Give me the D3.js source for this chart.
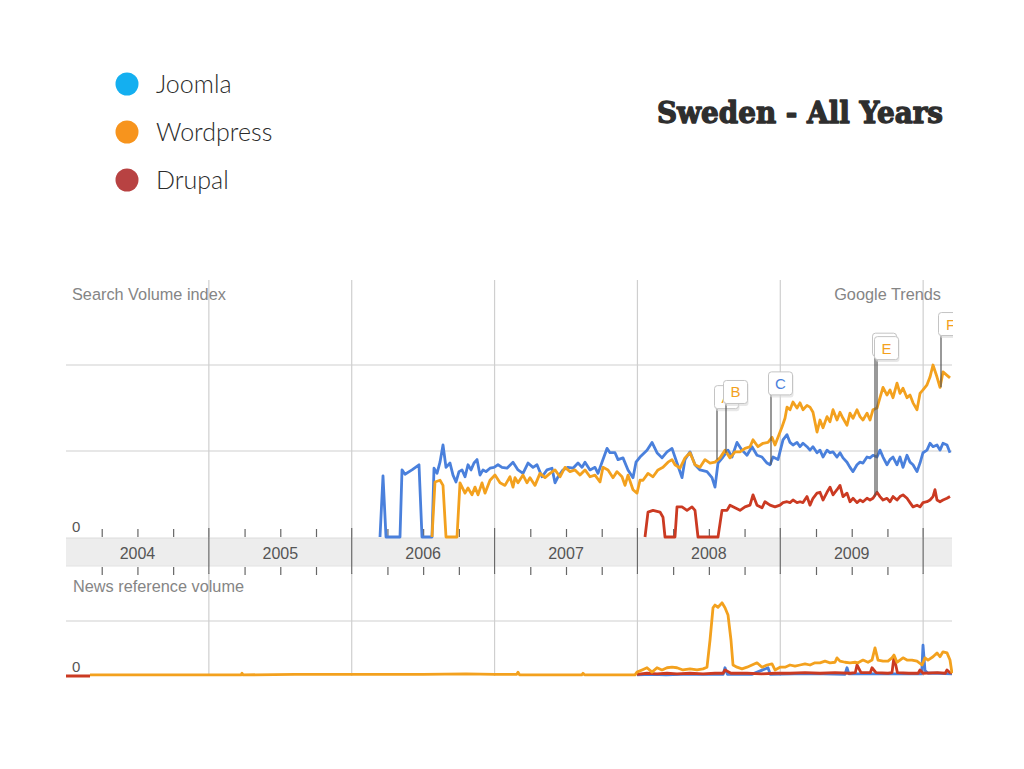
<!DOCTYPE html>
<html><head><meta charset="utf-8">
<script src="https://cdn.jsdelivr.net/npm/d3@7/dist/d3.min.js"></script>
<style>
html,body{margin:0;padding:0;background:#fff;}
svg{display:block;}
</style></head>
<body>
<svg id="c" width="1024" height="769"></svg>
<script>
// ---------- DATA ----------
const legendNames = ["Joomla", "Wordpress", "Drupal"];
const legendColors = ["#14aff0", "#f7941d", "#b84242"];
const titleText = "Sweden - All Years";
const yearLabels = ["2004", "2005", "2006", "2007", "2008", "2009"];
const yearStarts = [2004, 2005, 2006, 2007, 2008, 2009, 2010];
const quarterOffsets = [0.25, 0.5, 0.75];
const xDomain = [2004, 2010.202];
const searchDomain = [0, 3];
const searchGrid = [1, 2];
const newsDomain = [0, 2];
const newsGrid = [1];

// Search volume index, [decimal year, index]
const joomlaSearch = [[2006.198,0],[2006.219,0.71],[2006.240,0],[2006.338,0],[2006.352,0.78],[2006.373,0.73],[2006.422,0.78],[2006.471,0.84],[2006.492,0],[2006.562,0],[2006.576,0.80],[2006.597,0.74],[2006.618,0.87],[2006.639,1.07],[2006.660,0.81],[2006.688,0.86],[2006.709,0.72],[2006.730,0.64],[2006.751,0.76],[2006.772,0.78],[2006.793,0.70],[2006.814,0.84],[2006.835,0.78],[2006.856,0.86],[2006.877,0.90],[2006.898,0.72],[2006.919,0.78],[2006.940,0.76],[2006.968,0.80],[2006.996,0.81],[2007.024,0.84],[2007.052,0.81],[2007.087,0.80],[2007.129,0.87],[2007.164,0.78],[2007.199,0.74],[2007.234,0.86],[2007.269,0.81],[2007.297,0.84],[2007.332,0.70],[2007.367,0.78],[2007.402,0.80],[2007.423,0.63],[2007.444,0.70],[2007.479,0.78],[2007.514,0.81],[2007.549,0.80],[2007.584,0.86],[2007.612,0.81],[2007.633,0.87],[2007.668,0.78],[2007.703,0.81],[2007.724,0.74],[2007.752,0.87],[2007.787,1.03],[2007.808,0.98],[2007.843,0.98],[2007.864,0.90],[2007.899,0.92],[2007.934,0.78],[2007.969,0.69],[2007.990,0.87],[2008.018,0.93],[2008.067,1.01],[2008.102,1.10],[2008.137,0.98],[2008.172,0.92],[2008.207,0.99],[2008.242,1.03],[2008.277,0.86],[2008.312,0.69],[2008.333,0.90],[2008.368,0.99],[2008.403,0.84],[2008.438,0.78],[2008.487,0.76],[2008.522,0.69],[2008.543,0.58],[2008.564,0.86],[2008.599,0.93],[2008.634,1.01],[2008.662,0.93],[2008.697,1.10],[2008.732,1.01],[2008.767,0.95],[2008.802,1.05],[2008.837,0.95],[2008.872,0.93],[2008.907,0.86],[2008.928,0.84],[2008.949,0.93],[2008.984,0.90],[2009.019,1.13],[2009.047,1.19],[2009.068,1.10],[2009.089,1.07],[2009.117,1.10],[2009.138,1.05],[2009.159,1.09],[2009.187,1.05],[2009.208,1.01],[2009.229,1.05],[2009.257,0.98],[2009.278,1.01],[2009.299,0.93],[2009.327,1.01],[2009.348,0.98],[2009.369,0.99],[2009.397,0.93],[2009.418,0.98],[2009.439,0.92],[2009.467,0.87],[2009.488,0.81],[2009.509,0.76],[2009.537,0.84],[2009.558,0.87],[2009.579,0.86],[2009.607,0.93],[2009.628,0.92],[2009.649,0.95],[2009.677,0.93],[2009.698,1.01],[2009.719,0.93],[2009.747,0.84],[2009.768,0.90],[2009.789,0.93],[2009.817,0.84],[2009.838,0.93],[2009.859,0.81],[2009.887,0.95],[2009.908,0.87],[2009.929,0.84],[2009.957,0.76],[2009.978,0.86],[2009.999,0.98],[2010.027,1.01],[2010.048,1.09],[2010.069,1.05],[2010.097,1.07],[2010.118,1.01],[2010.139,1.09],[2010.167,1.07],[2010.188,0.98]];

const wordpressSearch = [[2006.562,0],[2006.583,0.64],[2006.618,0.66],[2006.639,0.60],[2006.660,0],[2006.737,0],[2006.758,0.63],[2006.793,0.51],[2006.814,0.57],[2006.842,0.49],[2006.863,0.58],[2006.884,0.49],[2006.912,0.63],[2006.933,0.51],[2006.968,0.66],[2007.003,0.72],[2007.038,0.63],[2007.073,0.60],[2007.108,0.70],[2007.129,0.58],[2007.143,0.69],[2007.164,0.63],[2007.199,0.72],[2007.227,0.63],[2007.248,0.69],[2007.283,0.60],[2007.318,0.74],[2007.353,0.69],[2007.388,0.74],[2007.423,0.78],[2007.458,0.70],[2007.493,0.81],[2007.528,0.76],[2007.563,0.78],[2007.598,0.72],[2007.633,0.78],[2007.668,0.70],[2007.703,0.72],[2007.738,0.64],[2007.759,0.81],[2007.794,0.78],[2007.829,0.69],[2007.857,0.76],[2007.892,0.70],[2007.913,0.60],[2007.934,0.72],[2007.969,0.55],[2007.997,0.51],[2008.018,0.66],[2008.039,0.66],[2008.074,0.74],[2008.109,0.70],[2008.144,0.78],[2008.179,0.81],[2008.214,0.87],[2008.242,0.90],[2008.263,0.84],[2008.298,0.80],[2008.333,0.92],[2008.368,0.98],[2008.403,0.84],[2008.438,0.81],[2008.473,0.90],[2008.508,0.86],[2008.543,0.87],[2008.578,0.92],[2008.613,1.01],[2008.648,0.92],[2008.683,0.99],[2008.718,0.99],[2008.753,1.03],[2008.788,1.05],[2008.809,1.13],[2008.844,1.05],[2008.879,1.09],[2008.914,1.10],[2008.942,1.16],[2008.963,1.07],[2008.984,1.16],[2009.012,1.28],[2009.033,1.38],[2009.047,1.51],[2009.068,1.48],[2009.089,1.57],[2009.117,1.50],[2009.138,1.56],[2009.159,1.48],[2009.187,1.53],[2009.208,1.51],[2009.229,1.45],[2009.257,1.22],[2009.278,1.36],[2009.299,1.27],[2009.327,1.40],[2009.348,1.34],[2009.369,1.48],[2009.397,1.36],[2009.418,1.45],[2009.439,1.38],[2009.467,1.30],[2009.488,1.44],[2009.509,1.38],[2009.537,1.48],[2009.558,1.40],[2009.579,1.36],[2009.607,1.44],[2009.628,1.36],[2009.649,1.48],[2009.677,1.50],[2009.698,1.62],[2009.719,1.74],[2009.747,1.65],[2009.768,1.71],[2009.789,1.62],[2009.817,1.79],[2009.838,1.67],[2009.859,1.73],[2009.887,1.62],[2009.908,1.65],[2009.929,1.56],[2009.957,1.48],[2009.978,1.67],[2009.999,1.71],[2010.027,1.77],[2010.048,1.86],[2010.069,2.00],[2010.097,1.86],[2010.118,1.74],[2010.139,1.92],[2010.167,1.88],[2010.188,1.85]];

const drupalSearch = [[2008.053,0],[2008.074,0.29],[2008.109,0.31],[2008.158,0.29],[2008.179,0.23],[2008.193,0],[2008.263,0],[2008.277,0.35],[2008.312,0.35],[2008.347,0.31],[2008.382,0.35],[2008.403,0.31],[2008.424,0],[2008.564,0],[2008.592,0.31],[2008.627,0.31],[2008.648,0.37],[2008.683,0.34],[2008.718,0.31],[2008.753,0.35],[2008.788,0.37],[2008.809,0.49],[2008.837,0.37],[2008.872,0.34],[2008.893,0.41],[2008.928,0.37],[2008.963,0.35],[2008.998,0.37],[2009.019,0.40],[2009.047,0.41],[2009.068,0.40],[2009.089,0.43],[2009.117,0.40],[2009.138,0.41],[2009.159,0.40],[2009.187,0.47],[2009.208,0.37],[2009.229,0.45],[2009.257,0.51],[2009.278,0.52],[2009.299,0.43],[2009.327,0.52],[2009.348,0.58],[2009.369,0.49],[2009.397,0.55],[2009.418,0.60],[2009.439,0.47],[2009.467,0.51],[2009.488,0.41],[2009.509,0.45],[2009.537,0.40],[2009.558,0.43],[2009.579,0.41],[2009.607,0.45],[2009.628,0.43],[2009.649,0.45],[2009.677,0.52],[2009.698,0.47],[2009.719,0.43],[2009.747,0.45],[2009.768,0.41],[2009.789,0.47],[2009.817,0.43],[2009.838,0.47],[2009.859,0.49],[2009.887,0.45],[2009.908,0.40],[2009.929,0.35],[2009.957,0.37],[2009.978,0.35],[2009.999,0.40],[2010.027,0.41],[2010.048,0.43],[2010.069,0.47],[2010.083,0.55],[2010.097,0.43],[2010.118,0.41],[2010.139,0.43],[2010.167,0.45],[2010.188,0.47]];

// News reference volume, [decimal year, volume]
const joomlaNews = [[2007.997,0.02],[2008.100,0.03],[2008.200,0.02],[2008.300,0.03],[2008.400,0.03],[2008.600,0.03],[2008.613,0.15],[2008.630,0.03],[2008.800,0.03],[2008.914,0.15],[2008.930,0.03],[2009.100,0.04],[2009.300,0.04],[2009.453,0.03],[2009.467,0.15],[2009.480,0.04],[2009.700,0.04],[2009.900,0.04],[2009.990,0.04],[2009.999,0.56],[2010.013,0.10],[2010.034,0.05],[2010.100,0.05],[2010.202,0.04]];

const wordpressNews = [[2004.168,0.02],[2004.500,0.02],[2005.000,0.02],[2005.225,0.02],[2005.232,0.05],[2005.240,0.02],[2005.600,0.03],[2006.000,0.03],[2006.500,0.03],[2006.800,0.04],[2007.000,0.03],[2007.155,0.03],[2007.164,0.07],[2007.175,0.02],[2007.610,0.02],[2007.619,0.05],[2007.630,0.02],[2007.983,0.02],[2007.997,0.07],[2008.032,0.11],[2008.067,0.15],[2008.102,0.07],[2008.137,0.15],[2008.172,0.11],[2008.207,0.15],[2008.242,0.16],[2008.277,0.15],[2008.319,0.11],[2008.368,0.13],[2008.417,0.11],[2008.459,0.13],[2008.487,0.16],[2008.508,0.65],[2008.529,1.24],[2008.543,1.29],[2008.564,1.25],[2008.592,1.33],[2008.613,1.24],[2008.634,1.11],[2008.655,0.65],[2008.669,0.20],[2008.697,0.16],[2008.732,0.13],[2008.767,0.16],[2008.802,0.20],[2008.837,0.24],[2008.872,0.16],[2008.907,0.20],[2008.942,0.22],[2008.963,0.11],[2008.998,0.16],[2009.033,0.16],[2009.068,0.20],[2009.103,0.18],[2009.138,0.20],[2009.173,0.22],[2009.208,0.20],[2009.243,0.24],[2009.278,0.24],[2009.313,0.27],[2009.348,0.24],[2009.383,0.25],[2009.397,0.33],[2009.418,0.27],[2009.453,0.25],[2009.488,0.24],[2009.523,0.25],[2009.544,0.24],[2009.579,0.29],[2009.614,0.25],[2009.642,0.29],[2009.663,0.51],[2009.684,0.29],[2009.719,0.27],[2009.754,0.27],[2009.782,0.33],[2009.796,0.38],[2009.817,0.25],[2009.838,0.29],[2009.859,0.33],[2009.887,0.29],[2009.922,0.29],[2009.957,0.27],[2009.992,0.20],[2010.013,0.33],[2010.034,0.29],[2010.069,0.35],[2010.097,0.42],[2010.118,0.35],[2010.139,0.44],[2010.167,0.42],[2010.188,0.29],[2010.202,0.05]];

const drupalNews = [[2004.000,0],[2004.168,0],[2004.169,null],[2007.996,null],[2007.997,0.03],[2008.067,0.05],[2008.137,0.04],[2008.207,0.05],[2008.277,0.04],[2008.368,0.05],[2008.459,0.04],[2008.543,0.05],[2008.600,0.05],[2008.613,0.11],[2008.655,0.05],[2008.767,0.05],[2008.872,0.04],[2008.963,0.05],[2009.068,0.05],[2009.173,0.06],[2009.278,0.05],[2009.383,0.06],[2009.488,0.05],[2009.525,0.06],[2009.537,0.20],[2009.565,0.06],[2009.630,0.06],[2009.642,0.15],[2009.670,0.06],[2009.754,0.05],[2009.782,0.06],[2009.796,0.35],[2009.820,0.06],[2009.900,0.05],[2009.965,0.05],[2009.978,0.11],[2010.000,0.05],[2010.100,0.06],[2010.155,0.05],[2010.167,0.11],[2010.188,0.06],[2010.202,0.05]];

// Event flags (the D flag sits behind E, its letter is hidden in the original)
const flagLetters = ["A", "B", "C", "D", "E", "F"];
const flagDates = [2008.557, 2008.620, 2008.935, 2009.663, 2009.677, 2010.125];
const flagLevels = [1.76, 1.82, 1.92, 2.37, 2.33, 2.61];
const flagTargets = [0.90, 0.98, 0.84, 0.47, 0.52, 1.74];
const flagSeries = [1, 1, 0, 1, 1, 1];
const flagCovered = [false, false, false, true, false, false];

// ---------- DRAW ----------
const lineColors = ["#4a80dc", "#f3a11e", "#cb3a22"];
const svg = d3.select("#c");
const L = 66, R = 952;
const x = d3.scaleLinear().domain(xDomain).range([L, R]);
const yS = d3.scaleLinear().domain(searchDomain).range([537, 279]);
const yN = d3.scaleLinear().domain(newsDomain).range([676, 566]);
const axisFont = "'Liberation Sans', Arial, sans-serif";

// legend
const leg = svg.append("g");
legendNames.forEach((n, i) => {
  leg.append("circle").attr("cx", 127).attr("cy", 84 + i * 48).attr("r", 11.5).attr("fill", legendColors[i]);
  leg.append("text").attr("x", 156).attr("y", 93 + i * 48).text(n)
    .attr("font-family", "Lato, 'Noto Sans', sans-serif").attr("font-weight", 300)
    .attr("font-size", 25).attr("fill", "#2b2b2b");
});

// title
svg.append("text").attr("x", 943).attr("y", 123).attr("text-anchor", "end")
  .attr("font-family", "'DejaVu Serif', serif").attr("font-weight", "bold")
  .attr("font-size", 29).attr("fill", "#2e2e2e")
  .attr("stroke", "#2e2e2e").attr("stroke-width", 1.3).attr("stroke-linejoin", "round")
  .attr("textLength", 286).attr("lengthAdjust", "spacingAndGlyphs")
  .text(titleText);

// clip
svg.append("defs").append("clipPath").attr("id", "clip")
  .append("rect").attr("x", L).attr("y", 270).attr("width", R - L + 1).attr("height", 420);

// ---- top chart grid ----
const g = svg.append("g");
g.selectAll(".hg").data(searchGrid).enter().append("line")
  .attr("x1", L).attr("x2", R).attr("y1", d => yS(d)).attr("y2", d => yS(d))
  .attr("stroke", "#cfcfcf").attr("stroke-width", 1.2);
g.selectAll(".vg").data(yearStarts.slice(1)).enter().append("line")
  .attr("x1", d => x(d)).attr("x2", d => x(d)).attr("y1", 280).attr("y2", 537)
  .attr("stroke", "#cfcfcf").attr("stroke-width", 1.2);
// bottom chart grid
g.selectAll(".hgn").data(newsGrid).enter().append("line")
  .attr("x1", L).attr("x2", R).attr("y1", d => yN(d)).attr("y2", d => yN(d))
  .attr("stroke", "#cfcfcf").attr("stroke-width", 1.2);
g.selectAll(".vgn").data(yearStarts.slice(1)).enter().append("line")
  .attr("x1", d => x(d)).attr("x2", d => x(d)).attr("y1", 573).attr("y2", 676)
  .attr("stroke", "#cfcfcf").attr("stroke-width", 1.2);

// year band
g.append("rect").attr("x", L).attr("y", 538).attr("width", R - L).attr("height", 28)
  .attr("fill", "#ededed");
g.append("line").attr("x1", L).attr("x2", R).attr("y1", 538).attr("y2", 538).attr("stroke", "#dcdcdc");
g.append("line").attr("x1", L).attr("x2", R).attr("y1", 566).attr("y2", 566).attr("stroke", "#e2e2e2");
g.selectAll(".ysep").data(yearStarts.slice(1)).enter().append("line")
  .attr("x1", d => x(d)).attr("x2", d => x(d)).attr("y1", 528).attr("y2", 574)
  .attr("stroke", "#6a6a6a").attr("stroke-width", 1.2);

// quarter ticks via axes
const qTicks = [];
yearStarts.slice(0, 6).forEach(yv => quarterOffsets.forEach(q => qTicks.push(yv + q)));
const axTop = d3.axisTop(x).tickValues(qTicks).tickSize(8).tickFormat("");
const axBot = d3.axisBottom(x).tickValues(qTicks).tickSize(8).tickFormat("");
const a1 = g.append("g").attr("transform", "translate(0,537)").call(axTop);
const a2 = g.append("g").attr("transform", "translate(0,567)").call(axBot);
[a1, a2].forEach(a => {
  a.select(".domain").remove();
  a.selectAll(".tick line").attr("stroke", "#666").attr("stroke-width", 1.2);
});

// year labels
g.selectAll(".yl").data(yearLabels).enter().append("text")
  .attr("x", (d, i) => x(yearStarts[i] + 0.5)).attr("y", 558.5)
  .attr("text-anchor", "middle").attr("font-family", axisFont).attr("font-size", 16)
  .attr("fill", "#555").text(d => d);

// labels
const lab = (txt, xx, yy, anchor) => g.append("text").attr("x", xx).attr("y", yy)
  .attr("text-anchor", anchor || "start").attr("font-family", axisFont)
  .attr("font-size", 16.3).attr("fill", "#858585").text(txt);
lab("Search Volume index", 72, 300);
lab("Google Trends", 941, 300, "end");
lab("News reference volume", 73, 592);
g.append("text").attr("x", 72).attr("y", 532).attr("font-family", axisFont).attr("font-size", 15).attr("fill", "#555").text("0");
g.append("text").attr("x", 72).attr("y", 672).attr("font-family", axisFont).attr("font-size", 15).attr("fill", "#555").text("0");

// lines
const lineS = d3.line().defined(d => d[1] != null).x(d => x(d[0])).y(d => yS(d[1]));
const lineN = d3.line().defined(d => d[1] != null).x(d => x(d[0])).y(d => yN(d[1]));
const plot = svg.append("g").attr("clip-path", "url(#clip)");
[[joomlaSearch, 0], [wordpressSearch, 1], [drupalSearch, 2]].forEach(([data, i]) => {
  plot.append("path").datum(data).attr("d", lineS).attr("fill", "none")
    .attr("stroke", lineColors[i]).attr("stroke-width", 2.8).attr("stroke-linejoin", "round");
});
[[joomlaNews, 0], [drupalNews, 2], [wordpressNews, 1]].forEach(([data, i]) => {
  plot.append("path").datum(data).attr("d", lineN).attr("fill", "none")
    .attr("stroke", lineColors[i]).attr("stroke-width", 2.8).attr("stroke-linejoin", "round");
});

// flags
const fl = plot.append("g");
flagLetters.forEach((lt, i) => {
  const fx = x(flagDates[i]);
  const top = yS(flagLevels[i]);
  fl.append("line").attr("x1", fx).attr("x2", fx).attr("y1", top + 22).attr("y2", yS(flagTargets[i]))
    .attr("stroke", "#555").attr("stroke-width", 1.2);
  fl.append("rect").attr("x", fx - 1.5).attr("y", top + 1.5).attr("width", 24).attr("height", 24)
    .attr("rx", 3).attr("fill", "#d8d8d8").attr("opacity", 0.6);
  fl.append("rect").attr("x", fx - 2.5).attr("y", top).attr("width", 24).attr("height", 23)
    .attr("rx", 3).attr("fill", "#fff").attr("stroke", "#c4c4c4").attr("stroke-width", 1);
  if (!flagCovered[i]) {
    fl.append("text").attr("x", fx + 9.5).attr("y", top + 17).attr("text-anchor", "middle")
      .attr("font-family", axisFont).attr("font-size", 15)
      .attr("fill", lineColors[flagSeries[i]]).text(lt);
  }
});
</script>
</body></html>
